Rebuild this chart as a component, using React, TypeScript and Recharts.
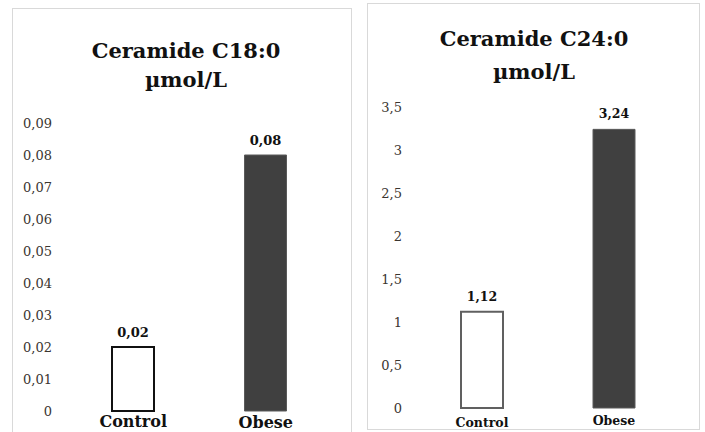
import { BarChart, Bar, XAxis, YAxis, Cell, LabelList, Customized } from 'recharts';

const categories = ['Control', 'Obese'];
const c18Values = [0.02, 0.08];
const c24Values = [1.12, 3.24];
const c18Ticks = [0, 0.01, 0.02, 0.03, 0.04, 0.05, 0.06, 0.07, 0.08, 0.09];
const c24Ticks = [0, 0.5, 1, 1.5, 2, 2.5, 3, 3.5];

const comma = (v: number) => String(v).replace('.', ',');

const serif = '"DejaVu Serif", serif';

type PanelProps = {
  values: number[];
  ticks: number[];
  title: string;
  left: number;
  top: number;
  width: number;
  height: number;
  frameHeight: number;
  margin: { top: number; right: number; bottom: number; left: number };
  yWidth: number;
  yGap: number;
  xHeight: number;
  titleX: number;
  titleY: [number, number];
  titleSize: number;
  tickSize: number;
  valueSize: number;
  valueGap: number;
  catSize: number;
  catDy: number[];
  controlStroke: string;
};

const Title = ({ text, x, y, size }: { text: string; x: number; y: [number, number]; size: number }) => (
  <g>
    <text x={x} y={y[0]} textAnchor="middle" fontFamily={serif} fontWeight="bold" fontSize={size} fill="#111">
      {text}
    </text>
    <text x={x} y={y[1]} textAnchor="middle" fontFamily={serif} fontWeight="bold" fontSize={size} fill="#111">
      µmol/L
    </text>
  </g>
);

const Panel = (p: PanelProps) => {
  const data = categories.map((name, i) => ({ name, value: p.values[i] }));
  const max = p.ticks[p.ticks.length - 1];
  return (
    <>
      <div
        style={{
          position: 'absolute',
          left: p.left,
          top: p.top,
          width: p.width,
          height: p.frameHeight,
          border: '1px solid #d9d9d9',
          boxSizing: 'border-box',
        }}
      />
      <div style={{ position: 'absolute', left: p.left, top: p.top }}>
        <BarChart width={p.width} height={p.height} data={data} margin={p.margin}>
          <Customized component={<Title text={p.title} x={p.titleX} y={p.titleY} size={p.titleSize} />} />
          <YAxis
            domain={[0, max]}
            ticks={p.ticks}
            width={p.yWidth}
            axisLine={false}
            tickLine={false}
            tickSize={0}
            tickMargin={p.yGap}
            tickFormatter={comma}
            tick={{ fontFamily: serif, fontSize: p.tickSize, fill: '#3a3530' }}
          />
          <XAxis
            dataKey="name"
            height={p.xHeight}
            axisLine={false}
            tickLine={false}
            tickSize={0}
            tickMargin={0}
            interval={0}
            tick={(t: any) => (
              <text
                x={t.x}
                y={t.y + p.catDy[t.index]}
                textAnchor="middle"
                fontFamily={serif}
                fontWeight="bold"
                fontSize={p.catSize}
                fill="#111"
              >
                {t.payload.value}
              </text>
            )}
          />
          <Bar dataKey="value" barSize={42} isAnimationActive={false}>
            {data.map((d, i) => (
              <Cell
                key={d.name}
                fill={i === 0 ? '#ffffff' : '#404040'}
                stroke={i === 0 ? p.controlStroke : '#5a5a5a'}
                strokeWidth={i === 0 ? 2 : 1}
              />
            ))}
            <LabelList
              dataKey="value"
              content={(l: any) => (
                <text
                  x={l.x + l.width / 2}
                  y={l.y - p.valueGap}
                  textAnchor="middle"
                  fontFamily={serif}
                  fontWeight="bold"
                  fontSize={p.valueSize}
                  fill="#111"
                >
                  {comma(l.value)}
                </text>
              )}
            />
          </Bar>
        </BarChart>
      </div>
    </>
  );
};

export default function App() {
  return (
    <div style={{ position: 'absolute', left: 0, top: 0, width: 705, height: 432, overflow: 'hidden', background: '#fff' }}>
      <Panel
        values={c18Values}
        ticks={c18Ticks}
        title="Ceramide C18:0"
        left={12}
        top={8}
        width={340}
        height={424}
        frameHeight={440}
        margin={{ top: 115, right: 20, bottom: 0, left: 0 }}
        yWidth={55}
        yGap={15}
        xHeight={21}
        titleX={174}
        titleY={[50, 79]}
        titleSize={21}
        tickSize={13}
        valueSize={13}
        valueGap={10}
        catSize={16}
        catDy={[16, 17]}
        controlStroke="#111"
      />
      <Panel
        values={c24Values}
        ticks={c24Ticks}
        title="Ceramide C24:0"
        left={367}
        top={3}
        width={333}
        height={427}
        frameHeight={427}
        margin={{ top: 104, right: 20, bottom: 0, left: 0 }}
        yWidth={49}
        yGap={14}
        xHeight={22}
        titleX={167}
        titleY={[43, 76]}
        titleSize={21}
        tickSize={13}
        valueSize={12.5}
        valueGap={11}
        catSize={12.5}
        catDy={[19, 17]}
        controlStroke="#606060"
      />
    </div>
  );
}
